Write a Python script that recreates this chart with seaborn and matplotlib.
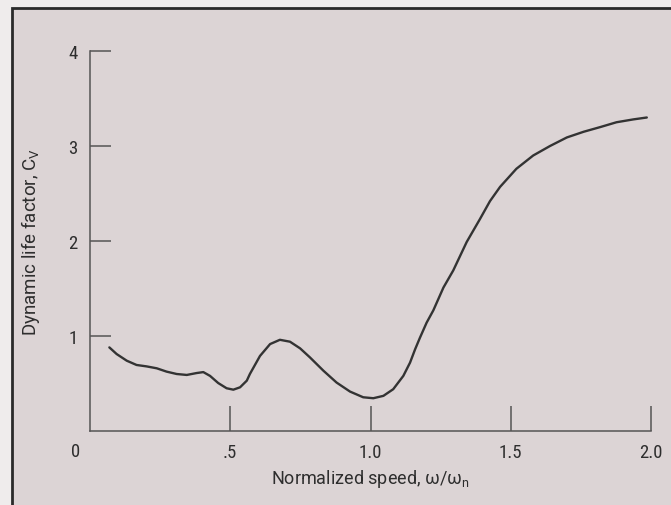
import matplotlib
matplotlib.use("Agg")
import matplotlib.pyplot as plt
from matplotlib.patches import Rectangle
import seaborn as sns
import pandas as pd

# Data
speed = [0.069, 0.095, 0.131, 0.166, 0.202, 0.238, 0.273, 0.309, 0.345, 0.38,
         0.404, 0.428, 0.457, 0.487, 0.511, 0.535, 0.559, 0.570, 0.606, 0.642,
         0.677, 0.713, 0.749, 0.784, 0.832, 0.879, 0.927, 0.974, 1.01, 1.046,
         1.081, 1.117, 1.141, 1.159, 1.176, 1.200, 1.224, 1.26, 1.295, 1.343,
         1.39, 1.426, 1.462, 1.52, 1.58, 1.64, 1.70, 1.76, 1.82, 1.877,
         1.937, 1.985]
life_factor = [0.88, 0.81, 0.74, 0.695, 0.68, 0.66, 0.625, 0.60, 0.59, 0.61,
               0.62, 0.58, 0.505, 0.45, 0.435, 0.46, 0.53, 0.60, 0.79, 0.915,
               0.96, 0.94, 0.87, 0.775, 0.635, 0.51, 0.415, 0.355, 0.345, 0.37,
               0.44, 0.58, 0.72, 0.86, 0.98, 1.14, 1.27, 1.51, 1.69, 1.99,
               2.23, 2.42, 2.57, 2.76, 2.90, 3.00, 3.09, 3.15, 3.20, 3.25,
               3.28, 3.30]
x_ticks = [0.5, 1.0, 1.5, 2.0]
x_tick_labels = [".5", "1.0", "1.5", "2.0"]
y_ticks = [1, 2, 3, 4]
y_tick_labels = ["1", "2", "3", "4"]

sns.set_style("ticks")
cond = ["Roboto Condensed", "Archivo Narrow", "PT Sans Narrow", "DejaVu Sans"]
reg = ["Roboto", "DejaVu Sans"]
plt.rcParams["font.family"] = cond
plt.rcParams["mathtext.fontset"] = "custom"
plt.rcParams["mathtext.rm"] = "Roboto"
plt.rcParams["mathtext.it"] = "Roboto:italic"

bg = "#dcd4d5"
ink = "#333333"
txt = "#2e2e2e"

fig = plt.figure(figsize=(6.71, 5.06), dpi=100, facecolor="#efecec")
fig.patches.append(Rectangle((12 / 671, -0.1), 1.2, (506 - 9) / 506 + 0.1,
                             transform=fig.transFigure, facecolor=bg,
                             edgecolor="#2a2a2a", linewidth=2, zorder=-10))
ax = fig.add_axes([90 / 671, (506 - 432) / 506, (651 - 90) / 671, (432 - 52) / 506])
ax.set_facecolor("none")

df = pd.DataFrame({"speed": speed, "cv": life_factor})
sns.lineplot(data=df, x="speed", y="cv", ax=ax, color=ink, linewidth=1.7, sort=False)

ax.set_xlim(0, 2)
ax.set_ylim(0, 4)
ax.set_xticks(x_ticks)
ax.set_xticklabels(x_tick_labels)
ax.set_yticks(y_ticks)
ax.set_yticklabels(y_tick_labels)
ax.tick_params(axis="x", direction="in", length=18, width=1.1, color="#555555",
               pad=9, labelsize=13.5, labelcolor=txt)
ax.tick_params(axis="y", direction="in", length=15, width=1.1, color="#555555",
               pad=9, labelsize=13.5, labelcolor=txt)
for s in ["top", "right"]:
    ax.spines[s].set_visible(False)
for s in ["left", "bottom"]:
    ax.spines[s].set_color("#555555")
    ax.spines[s].set_linewidth(1.1)

ax.annotate("0", xy=(0, 0), xycoords="data", xytext=(-10.4, -14.5),
            textcoords="offset points", ha="center", va="center",
            fontsize=13.5, color=txt)

ax.set_xlabel("Normalized speed, ω/ω$_\\mathrm{n}$", fontsize=13, color=txt,
              family=reg)
ax.xaxis.set_label_coords(0.5, -(468 - 432) / 380)
ax.set_ylabel("Dynamic life factor, C$_\\mathrm{V}$", fontsize=13.5, color=txt,
              family=reg)
ax.yaxis.set_label_coords(-(90 - 42) / 561, 0.5)

fig.savefig("out.png", dpi=100, facecolor=fig.get_facecolor())
